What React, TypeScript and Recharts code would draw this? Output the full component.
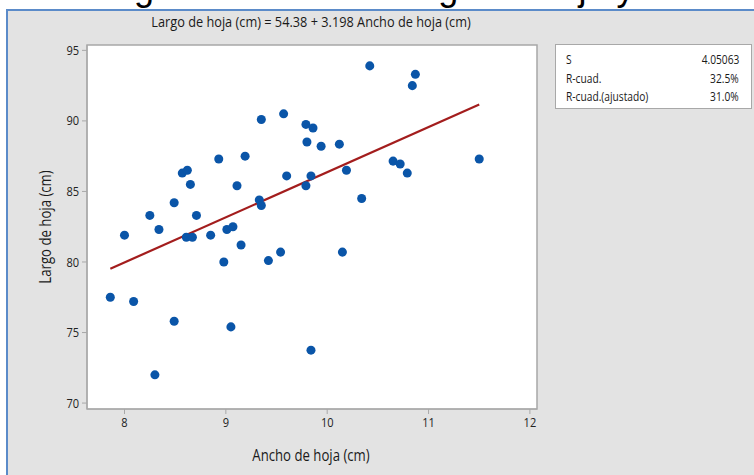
import React from 'react';
import { ScatterChart, Scatter, XAxis, YAxis, ZAxis, ReferenceArea } from 'recharts';

// Ancho / largo de hoja (cm)
const anchoHoja = [
  8.0, 7.86, 8.09, 8.25, 8.34, 8.49, 8.49, 8.3, 8.57, 8.62, 8.65, 8.71, 8.61, 8.67, 8.85, 8.93,
  9.01, 9.07, 8.98, 9.05, 9.11, 9.15, 9.19, 9.33, 9.35, 9.35, 9.42, 9.54, 9.57, 9.6, 9.79, 9.86,
  9.8, 9.94, 9.79, 9.84, 9.84, 10.12, 10.19, 10.15, 10.34, 10.42, 10.65, 10.72, 10.79, 10.84,
  10.87, 11.5,
];
const largoHoja = [
  81.9, 77.5, 77.2, 83.3, 82.3, 84.2, 75.8, 72.0, 86.3, 86.5, 85.5, 83.3, 81.75, 81.75, 81.9, 87.3,
  82.3, 82.5, 80.0, 75.4, 85.4, 81.2, 87.5, 84.4, 84.0, 90.1, 80.1, 80.7, 90.5, 86.1, 89.75, 89.5,
  88.5, 88.2, 85.4, 86.1, 73.75, 88.35, 86.5, 80.7, 84.5, 93.9, 87.15, 86.95, 86.3, 92.5,
  93.3, 87.3,
];

// recta ajustada: extremos
const ajusteX = [7.86, 11.5];
const ajusteY = [79.52, 91.16];

const xTicks = [8, 9, 10, 11, 12];
const yTicks = [70, 75, 80, 85, 90, 95];
const xDomain = [7.63, 12.07];
const yDomain = [69.58, 95.38];

const statLabels = ['S', 'R-cuad.', 'R-cuad.(ajustado)'];
const statValues = ['4.05063', '32.5%', '31.0%'];

const puntos = anchoHoja.map((x, i) => ({ x, y: largoHoja[i] }));
const recta = ajusteX.map((x, i) => ({ x, y: ajusteY[i] }));

const FONT = "'Open Sans', 'Noto Sans', sans-serif";
const SQUEEZE = 0.85;

const XTick = ({ x, y, payload }: any) => (
  <text
    transform={`translate(${x} ${y}) scale(${SQUEEZE} 1)`}
    dy={11}
    textAnchor="middle"
    fontSize={13}
    fontFamily={FONT}
    fill="#222"
  >
    {payload.value}
  </text>
);

const YTick = ({ x, y, payload }: any) => (
  <text
    transform={`translate(${x} ${y}) scale(${SQUEEZE} 1)`}
    dy={4.5}
    textAnchor="end"
    fontSize={13}
    fontFamily={FONT}
    fill="#222"
  >
    {payload.value}
  </text>
);

const squeezed = (extra: React.CSSProperties = {}): React.CSSProperties => ({
  position: 'absolute',
  whiteSpace: 'nowrap',
  fontFamily: FONT,
  color: '#1a1a1a',
  ...extra,
});

export default function App() {
  return (
    <div
      style={{
        position: 'fixed',
        left: 0,
        top: 0,
        width: 754,
        height: 475,
        background: '#fff',
        overflow: 'hidden',
      }}
    >
      {/* título del documento, cortado arriba como en la captura */}
      <div
        style={squeezed({
          left: -108,
          top: -33,
          fontSize: 36,
          fontFamily: "'Liberation Sans', Arial, sans-serif",
          color: '#000',
        })}
      >
        Gráfico 3.1. Regresión lineal – Largo de hoja y ancho de hoja (cm)
      </div>

      <div
        style={{
          position: 'absolute',
          left: 6,
          top: 9,
          right: 0,
          bottom: 0,
          background: '#e3e3e3',
          borderLeft: '2px solid #5b8bc9',
          borderTop: '2px solid #5b8bc9',
        }}
      />

      <div
        style={squeezed({
          left: 311,
          top: 11,
          fontSize: 15,
          transform: `translateX(-50%) scaleX(${SQUEEZE})`,
        })}
      >
        Largo de hoja (cm) = 54.38 + 3.198 Ancho de hoja (cm)
      </div>

      <ScatterChart
        width={754}
        height={475}
        margin={{ top: 45, right: 217, bottom: 36, left: 27 }}
        style={{ position: 'absolute', left: 0, top: 0 }}
      >
        <XAxis
          type="number"
          dataKey="x"
          domain={xDomain}
          ticks={xTicks}
          height={30}
          allowDataOverflow
          stroke="#a8a8a8"
          tickSize={5}
          tick={<XTick />}
        />
        <YAxis
          type="number"
          dataKey="y"
          domain={yDomain}
          ticks={yTicks}
          width={60}
          allowDataOverflow
          stroke="#a8a8a8"
          tickSize={5}
          tickMargin={3}
          tick={<YTick />}
        />
        <ZAxis range={[85, 85]} />
        <ReferenceArea
          x1={xDomain[0]}
          x2={xDomain[1]}
          y1={yDomain[0]}
          y2={yDomain[1]}
          fill="#fff"
          fillOpacity={1}
          stroke="#a8a8a8"
          strokeWidth={1.5}
        />
        <Scatter
          data={recta}
          line={{ stroke: '#a31d1d', strokeWidth: 2.2 }}
          shape={() => <g />}
          isAnimationActive={false}
        />
        <Scatter data={puntos} fill="#0a55a8" shape="circle" isAnimationActive={false} />
      </ScatterChart>

      <div
        style={squeezed({
          left: 45,
          top: 227,
          fontSize: 15.5,
          transform: `translate(-50%, -50%) rotate(-90deg) scaleX(${SQUEEZE})`,
        })}
      >
        Largo de hoja (cm)
      </div>

      <div
        style={squeezed({
          left: 311,
          top: 444,
          fontSize: 15.5,
          transform: `translateX(-50%) scaleX(${SQUEEZE})`,
        })}
      >
        Ancho de hoja (cm)
      </div>

      <div
        style={{
          position: 'absolute',
          left: 555,
          top: 44,
          width: 195,
          height: 63,
          background: '#fff',
          border: '1px solid #a8a8a8',
        }}
      >
        {statLabels.map((s, i) => (
          <div key={s} style={{ position: 'relative', height: 18.5, top: 6 }}>
            <span
              style={squeezed({
                left: 10,
                fontSize: 12,
                transformOrigin: 'left center',
                transform: `scaleX(${SQUEEZE})`,
              })}
            >
              {s}
            </span>
            <span
              style={squeezed({
                right: 12,
                fontSize: 12,
                transformOrigin: 'right center',
                transform: `scaleX(${SQUEEZE})`,
              })}
            >
              {statValues[i]}
            </span>
          </div>
        ))}
      </div>
    </div>
  );
}
